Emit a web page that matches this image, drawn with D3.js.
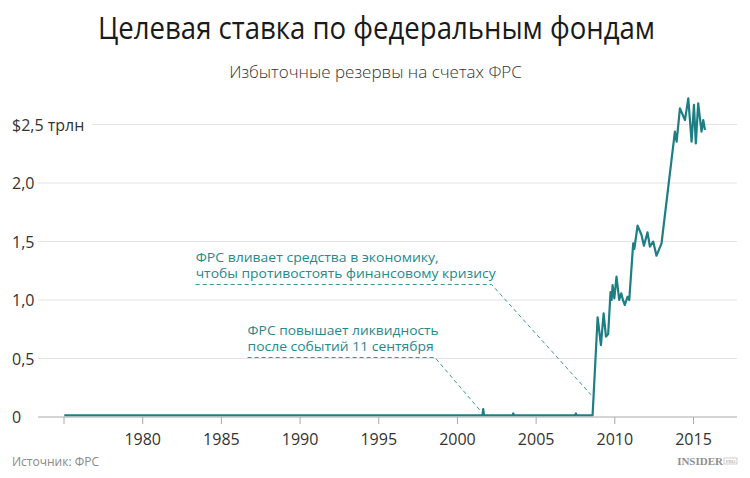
<!DOCTYPE html>
<html>
<head>
<meta charset="utf-8">
<script src="https://cdn.jsdelivr.net/npm/d3@7"></script>
<style>
  html, body { margin: 0; padding: 0; background: #fff; }
  svg { display: block; font-family: "Open Sans", "Noto Sans", sans-serif; }
</style>
</head>
<body>
<svg id="chart" width="750" height="478"></svg>
<script>
// ---- data ----
const title = "Целевая ставка по федеральным фондам";
const subtitle = "Избыточные резервы на счетах ФРС";
const source = "Источник: ФРС";
const yTicks = [0, 0.5, 1.0, 1.5, 2.0, 2.5];
const yTickLabels = ["0", "0,5", "1,0", "1,5", "2,0", "$2,5 трлн"];
const xTicks = [1975, 1980, 1985, 1990, 1995, 2000, 2005, 2010, 2015];
const xTickLabels = ["", "1980", "1985", "1990", "1995", "2000", "2005", "2010", "2015"];
// excess reserves, trillion $
const years = [1975.05, 2001.62, 2001.67, 2001.72, 2003.54, 2003.58, 2003.62, 2007.52, 2007.56, 2007.6, 2008.62,
  2008.94, 2009.15, 2009.32, 2009.47, 2009.61, 2009.76, 2009.83, 2009.89, 2010.0, 2010.14, 2010.31, 2010.44,
  2010.55, 2010.67, 2010.84, 2010.95, 2011.2, 2011.27, 2011.48, 2011.73, 2011.88, 2012.11, 2012.26, 2012.47,
  2012.68, 2013.0, 2013.85, 2013.96, 2014.17, 2014.49, 2014.7, 2014.91, 2015.06, 2015.18, 2015.33, 2015.54,
  2015.65, 2015.76];
const reserves = [0.015, 0.015, 0.068, 0.015, 0.015, 0.03, 0.015, 0.015, 0.03, 0.015, 0.015,
  0.852, 0.615, 0.886, 0.687, 0.709, 1.068, 1.0, 1.128, 1.014, 1.2, 1.0, 1.057,
  1.0, 0.957, 1.028, 1.0, 1.484, 1.436, 1.635, 1.556, 1.464, 1.578, 1.456, 1.499,
  1.379, 1.484, 2.439, 2.354, 2.638, 2.538, 2.724, 2.354, 2.667, 2.339, 2.681, 2.439,
  2.538, 2.453];
const annotations = [
  { lines: ["ФРС вливает средства в экономику,", "чтобы противостоять финансовому кризису"],
    widths: [243, 300],
    textYear: 1983.4, lineValue: 1.14, elbowYear: 2002.2, pointYear: 2008.52, pointValue: 0.19 },
  { lines: ["ФРС повышает ликвидность", "после событий 11 сентября"],
    widths: [191, 186],
    textYear: 1986.7, lineValue: 0.515, elbowYear: 1998.6, pointYear: 2001.45, pointValue: 0.06 }
];

// ---- layout ----
const svg = d3.select("#chart");
const x = d3.scaleLinear().domain([1975, 2015]).range([63.5, 693]);
const y = d3.scaleLinear().domain([0, 2.5]).range([417, 124.5]);
const teal = "#1d7e84";
const annColor = "#26898b";

svg.append("text").attr("x", 376.5).attr("y", 39).attr("text-anchor", "middle")
  .attr("font-size", 31).attr("font-weight", 400).attr("fill", "#1a1a1a")
  .attr("textLength", 557).attr("lengthAdjust", "spacingAndGlyphs").text(title);
svg.append("text").attr("x", 375.5).attr("y", 78).attr("text-anchor", "middle")
  .attr("font-size", 17).attr("font-weight", 300).attr("fill", "#333").text(subtitle);

// gridlines + y labels
const grid = svg.append("g");
yTicks.forEach((t, i) => {
  if (t === 0) return;
  grid.append("line")
    .attr("x1", i === yTicks.length - 1 ? 92 : 38).attr("x2", 737)
    .attr("y1", y(t)).attr("y2", y(t))
    .attr("stroke", "#e4e4e4").attr("stroke-width", 1);
});
yTicks.forEach((t, i) => {
  svg.append("text").attr("x", 12).attr("y", y(t) + 6)
    .attr("font-size", 16).attr("fill", "#333").text(yTickLabels[i]);
});

// x axis
const xAxis = d3.axisBottom(x).tickValues(xTicks).tickSize(7).tickPadding(10)
  .tickFormat((d, i) => xTickLabels[i]);
const gx = svg.append("g").attr("transform", `translate(0,${y(0)})`).call(xAxis);
gx.select(".domain").remove();
gx.selectAll(".tick line").attr("stroke", "#aaa");
gx.selectAll(".tick text").attr("font-size", 16).attr("fill", "#333")
  .attr("font-family", "'Open Sans', 'Noto Sans', sans-serif");
svg.append("line").attr("x1", 38).attr("x2", 737).attr("y1", y(0)).attr("y2", y(0))
  .attr("stroke", "#aaa").attr("stroke-width", 1);

// annotations
annotations.forEach((a) => {
  const tx = x(a.textYear);
  const ly = Math.round(y(a.lineValue)) + 0.5;
  a.lines.forEach((l, i) => {
    svg.append("text").attr("x", tx).attr("y", ly - 23 + i * 16.5)
      .attr("font-size", 13.5).attr("fill", annColor)
      .attr("textLength", a.widths[i]).attr("lengthAdjust", "spacingAndGlyphs").text(l);
  });
  svg.append("path")
    .attr("d", d3.line()([[tx, ly], [x(a.elbowYear), ly], [x(a.pointYear), y(a.pointValue)]]))
    .attr("fill", "none").attr("stroke", "#3a9597").attr("stroke-width", 1)
    .attr("stroke-dasharray", "4,3");
});

// line
const line = d3.line().x((d, i) => x(years[i])).y(d => y(d));
svg.append("path").datum(reserves).attr("d", line)
  .attr("fill", "none").attr("stroke", teal).attr("stroke-width", 2.2)
  .attr("stroke-linejoin", "round");

// footer
svg.append("text").attr("x", 12).attr("y", 466).attr("font-size", 12)
  .attr("fill", "#8a8a8a").text(source);
const brand = svg.append("g").attr("transform", "translate(723,465)");
brand.append("text").attr("x", 0).attr("y", 0).attr("text-anchor", "end")
  .attr("font-family", "'Liberation Serif', 'DejaVu Serif', serif").attr("font-weight", "bold")
  .attr("font-size", 11).attr("fill", "#8f8f8f").text("INSIDER");
brand.append("rect").attr("x", 1).attr("y", -7).attr("width", 13).attr("height", 6)
  .attr("fill", "none").attr("stroke", "#b0b0b0").attr("stroke-width", 0.6);
brand.append("text").attr("x", 7.5).attr("y", -2.3).attr("text-anchor", "middle")
  .attr("font-family", "'Liberation Serif', serif").attr("font-size", 5).attr("fill", "#999").text("PRO");
</script>
</body>
</html>
